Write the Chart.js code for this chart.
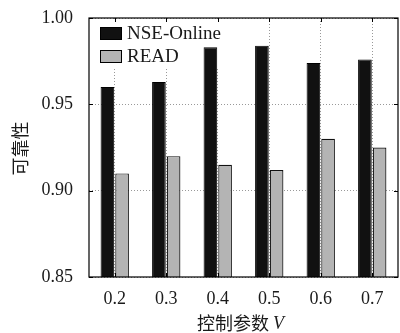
<!DOCTYPE html>
<html>
<head>
<meta charset="utf-8">
<script src="https://cdn.jsdelivr.net/npm/chart.js@4/dist/chart.umd.min.js"></script>
<style>
  html, body { margin: 0; padding: 0; background: #fff; }
  #wrap { width: 400px; height: 333px; position: relative; }
</style>
</head>
<body>
<div id="wrap"><canvas id="c" width="400" height="333"></canvas></div>
<script>
// Reliability for different values of the control parameter V
const categories = ['0.2', '0.3', '0.4', '0.5', '0.6', '0.7'];
const nseOnline = [0.960, 0.963, 0.983, 0.984, 0.974, 0.976];
const readVals = [0.910, 0.920, 0.915, 0.912, 0.930, 0.925];
const seriesNames = ['NSE-Online', 'READ'];
const yTicks = [0.85, 0.90, 0.95, 1.00];

const SERIF = '"Liberation Serif", "DejaVu Serif", serif';
const CJK = '"Noto Sans CJK SC", "Noto Sans CJK JP", sans-serif';
const TEXT = '#1a1a1a';

// Legend backdrop hides the grid lines but stays behind the bars
const legendBack = {
  id: 'legendBack',
  beforeDatasetsDraw(chart) {
    const ctx = chart.ctx, a = chart.chartArea;
    ctx.save();
    ctx.fillStyle = '#fff';
    ctx.fillRect(a.left + 8, a.top + 3, 135, 46);
    ctx.restore();
  }
};

// Frame, inward tick marks, legend and axis titles
const decor = {
  id: 'decor',
  afterDatasetsDraw(chart) {
    const ctx = chart.ctx;
    const a = chart.chartArea;
    const xs = chart.scales.x, ys = chart.scales.y;
    ctx.save();
    // frame
    ctx.strokeStyle = '#000';
    ctx.lineWidth = 1.2;
    ctx.strokeRect(a.left, a.top, a.right - a.left, a.bottom - a.top);
    // inward ticks
    const tl = 4;
    ctx.lineWidth = 1;
    ctx.beginPath();
    yTicks.forEach(v => {
      const y = Math.round(ys.getPixelForValue(v)) + 0.5;
      ctx.moveTo(a.left, y); ctx.lineTo(a.left + tl, y);
      ctx.moveTo(a.right, y); ctx.lineTo(a.right - tl, y);
    });
    categories.forEach((c, i) => {
      const x = Math.round(xs.getPixelForValue(i)) + 0.5;
      ctx.moveTo(x, a.top); ctx.lineTo(x, a.top + tl);
      ctx.moveTo(x, a.bottom); ctx.lineTo(x, a.bottom - tl);
    });
    ctx.stroke();

    // legend
    const lx = a.left + 11, ly = a.top + 9;
    ctx.font = '19px ' + SERIF;
    ctx.textBaseline = 'middle';
    chart.data.datasets.forEach((ds, i) => {
      const y = ly + i * 23;
      ctx.fillStyle = ds.backgroundColor;
      ctx.fillRect(lx, y, 22, 13);
      ctx.strokeStyle = '#000';
      ctx.lineWidth = 1;
      ctx.strokeRect(lx + 0.5, y + 0.5, 21, 12);
      ctx.fillStyle = TEXT;
      ctx.textAlign = 'left';
      ctx.fillText(ds.label, lx + 27, y + 7.5);
    });

    // y title
    ctx.save();
    ctx.translate(20, (a.top + a.bottom) / 2 + 1);
    ctx.rotate(-Math.PI / 2);
    ctx.font = '18px ' + CJK;
    ctx.textAlign = 'center';
    ctx.textBaseline = 'middle';
    ctx.fillStyle = TEXT;
    ctx.fillText('可靠性', 0, 0);
    ctx.restore();

    // x title with italic V
    const t1 = '控制参数 ', t2 = 'V';
    ctx.font = '18px ' + CJK;
    const w1 = ctx.measureText(t1).width;
    ctx.font = 'italic 18px ' + SERIF;
    const w2 = ctx.measureText(t2).width;
    const cx = (a.left + a.right) / 2 - 3;
    const sx = cx - (w1 + w2) / 2;
    ctx.textAlign = 'left';
    ctx.textBaseline = 'middle';
    ctx.fillStyle = TEXT;
    ctx.font = '18px ' + CJK;
    ctx.fillText(t1, sx, 323);
    ctx.font = 'italic 18px ' + SERIF;
    ctx.fillText(t2, sx + w1, 324);
    ctx.restore();
  }
};

new Chart(document.getElementById('c'), {
  type: 'bar',
  data: {
    labels: categories,
    datasets: [
      { label: seriesNames[0], data: nseOnline, backgroundColor: '#111111',
        borderColor: '#000', borderWidth: 1 },
      { label: seriesNames[1], data: readVals, backgroundColor: '#b4b4b4',
        borderColor: '#111', borderWidth: 1.2 }
    ]
  },
  options: {
    responsive: false,
    animation: false,
    devicePixelRatio: 1,
    layout: { padding: { left: 0, right: 2, top: 18, bottom: 0 } },
    datasets: { bar: { categoryPercentage: 0.57, barPercentage: 0.93 } },
    plugins: { legend: { display: false }, tooltip: { enabled: false } },
    scales: {
      x: {
        offset: true,
        grid: { offset: false, color: '#999', lineWidth: 1, tickLength: 0,
                drawTicks: false },
        border: { display: false, dash: [1, 2] },
        ticks: { font: { family: SERIF, size: 18 }, color: TEXT, padding: 11 },
        afterFit(s) { s.height = 56; s.paddingLeft = 0; s.paddingRight = 0; }
      },
      y: {
        min: 0.85, max: 1.0,
        afterBuildTicks(s) { s.ticks = yTicks.map(v => ({ value: v })); },
        grid: { color: '#999', lineWidth: 1, drawTicks: false, tickLength: 0 },
        border: { display: false, dash: [1, 2] },
        ticks: { font: { family: SERIF, size: 18 }, color: TEXT, padding: 16,
                 callback: v => Number(v).toFixed(2) },
        afterFit(s) { s.width = 89; s.paddingTop = 0; s.paddingBottom = 0; }
      }
    }
  },
  plugins: [legendBack, decor]
});
</script>
</body>
</html>
